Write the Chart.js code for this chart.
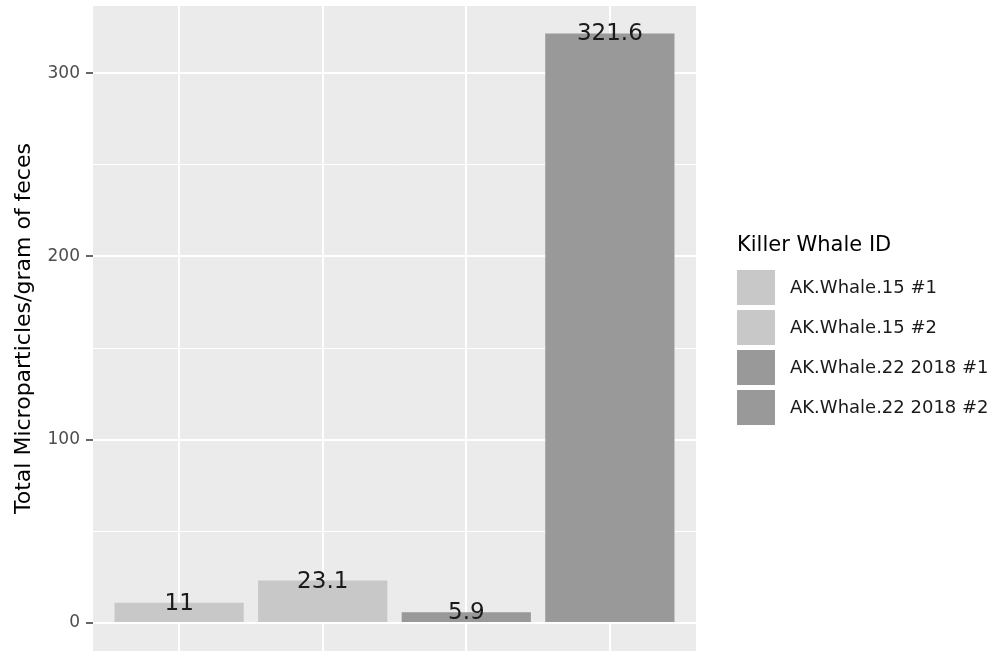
<!DOCTYPE html>
<html>
<head>
<meta charset="utf-8">
<script src="https://cdn.jsdelivr.net/npm/chart.js@4.4.1/dist/chart.umd.min.js"></script>
<style>
    html, body { margin: 0; padding: 0; background: #ffffff; }
    #wrap { width: 1000px; height: 651px; }
</style>
</head>
<body>
<div id="wrap"><canvas id="BarChart" width="1000" height="651"></canvas></div>
<script>
// values
var whaleIds = ['AK.Whale.15 #1', 'AK.Whale.15 #2', 'AK.Whale.22 2018 #1', 'AK.Whale.22 2018 #2'];
var particles = [11, 23.1, 5.9, 321.6];
var yTicks = [0, 100, 200, 300];
var yMinorTicks = [50, 150, 250];

var barColors = ['#c8c8c8', '#c8c8c8', '#999999', '#999999'];

// grey ggplot-like panel behind the bars
var panelBg = {
    id: 'panelBg',
    beforeDraw: function (chart) {
        var a = chart.chartArea, c = chart.ctx;
        c.save();
        c.fillStyle = '#ebebeb';
        c.fillRect(a.left, a.top, a.right - a.left, a.bottom - a.top);
        c.restore();
    }
};

// value written at the top of each bar
var barLabels = {
    id: 'barLabels',
    afterDatasetsDraw: function (chart) {
        var c = chart.ctx;
        c.save();
        c.font = '23px "DejaVu Sans"';
        c.fillStyle = '#1a1a1a';
        c.textAlign = 'center';
        c.textBaseline = 'middle';
        chart.getDatasetMeta(0).data.forEach(function (bar, i) {
            c.fillText(String(particles[i]), bar.x, bar.y + 1);
        });
        c.restore();
    }
};

// legend on the right, ggplot style
var sideLegend = {
    id: 'sideLegend',
    afterDraw: function (chart) {
        var c = chart.ctx;
        var x = 737;
        c.save();
        c.textAlign = 'left';
        c.textBaseline = 'middle';
        c.fillStyle = '#000000';
        c.font = '21px "DejaVu Sans"';
        c.fillText('Killer Whale ID', x, 246);
        c.font = '18px "DejaVu Sans"';
        whaleIds.forEach(function (id, i) {
            var top = 270 + i * 40;
            c.fillStyle = barColors[i];
            c.fillRect(x, top, 38, 35);
            c.fillStyle = '#1a1a1a';
            c.fillText(id, 790, top + 18);
        });
        c.restore();
    }
};

function isMajor(v) { return yTicks.indexOf(v) >= 0; }

function noPad(s) {
    s.paddingTop = 0;
    s.paddingBottom = 0;
    s.paddingLeft = 0;
    s.paddingRight = 0;
}

var ctx = document.getElementById('BarChart').getContext('2d');
var chart1 = new Chart(ctx, {
    type: 'bar',
    data: {
        datasets: [{
            label: 'Total Microparticles/gram of feces',
            data: particles.map(function (v, i) { return { x: i + 1, y: v }; }),
            backgroundColor: barColors,
            borderWidth: 0,
            barPercentage: 0.9,
            categoryPercentage: 1
        }]
    },
    options: {
        responsive: false,
        animation: false,
        devicePixelRatio: 1,
        layout: { padding: { left: 0, right: 304, top: 6, bottom: 0 } },
        scales: {
            x: {
                type: 'linear',
                min: 0.4,
                max: 4.6,
                offset: false,
                afterBuildTicks: function (s) {
                    s.ticks = whaleIds.map(function (d, i) { return { value: i + 1 }; });
                },
                afterFit: function (s) { s.height = 0; noPad(s); },
                ticks: { display: false },
                grid: { color: '#ffffff', lineWidth: 2, drawTicks: false, offset: false },
                border: { display: false }
            },
            y: {
                min: -15.3,
                max: 336.6,
                afterBuildTicks: function (s) {
                    s.ticks = yTicks.concat(yMinorTicks)
                        .sort(function (a, b) { return a - b; })
                        .map(function (v) { return { value: v }; });
                },
                afterFit: function (s) { s.width = 93; noPad(s); },
                ticks: {
                    autoSkip: false,
                    color: '#4d4d4d',
                    padding: 6,
                    font: { family: 'DejaVu Sans', size: 17 },
                    callback: function (v) { return isMajor(v) ? String(v) : ''; }
                },
                grid: {
                    color: '#ffffff',
                    lineWidth: function (c) { return c.tick && isMajor(c.tick.value) ? 2 : 1; },
                    tickLength: 7,
                    tickWidth: 1.5,
                    tickColor: function (c) { return c.tick && isMajor(c.tick.value) ? '#333333' : 'rgba(0,0,0,0)'; }
                },
                border: { display: false },
                title: {
                    display: true,
                    text: 'Total Microparticles/gram of feces',
                    color: '#000000',
                    font: { family: 'DejaVu Sans', size: 22 },
                    padding: { top: 11, bottom: 0 }
                }
            }
        },
        plugins: {
            legend: { display: false },
            tooltip: { enabled: false }
        }
    },
    plugins: [panelBg, barLabels, sideLegend]
});
</script>
</body>
</html>
